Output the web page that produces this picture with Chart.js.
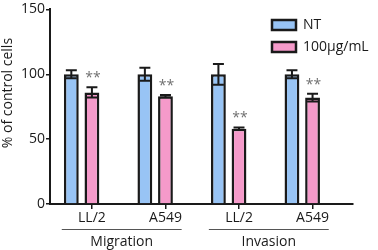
<!DOCTYPE html>
<html>
<head>
<meta charset="utf-8">
<script src="https://cdn.jsdelivr.net/npm/chart.js@4.4.0/dist/chart.umd.min.js"></script>
<style>
  html, body { margin: 0; padding: 0; background: #fff; }
  #wrap { width: 378px; height: 250px; }
</style>
</head>
<body>
<div id="wrap"><canvas id="chart"></canvas></div>
<script>
// valores (% de celulas control)
const CATEGORIES = ['LL/2', 'A549', 'LL/2', 'A549'];
const GROUPS = ['Migration', 'Invasion'];
const GROUP_MEMBERS = [[0, 1], [2, 3]];
const SERIES = ['NT', '100µg/mL'];
const NT = [100, 100, 100, 100];
const NT_ERR = [3, 5, 8, 3];
const TREATED = [86, 83, 58, 82];
const TREATED_ERR = [4, 1, 1, 3];
const STARS = ['**', '**', '**', '**'];
const Y_TICKS = [0, 50, 100, 150];
const Y_TITLE = '% of control cells';

const BLUE = '#98c4f5';
const PINK = '#f59aca';
const INK = '#1a1a1a';
const FONT = '"Open Sans", Lato, sans-serif';

const toXY = (arr) => arr.map((v, i) => ({ x: i, y: v }));

const errorBars = {
    id: 'errorBars',
    afterDatasetsDraw(chart) {
        const { ctx } = chart;
        const y = chart.scales.y;
        const sets = [[NT, NT_ERR], [TREATED, TREATED_ERR]];
        ctx.save();
        ctx.strokeStyle = INK;
        ctx.lineWidth = 2;
        sets.forEach(([vals, errs], d) => {
            const meta = chart.getDatasetMeta(d);
            meta.data.forEach((bar, i) => {
                const top = y.getPixelForValue(vals[i] + errs[i]);
                const bot = y.getPixelForValue(vals[i] - errs[i]);
                const half = bar.width * 0.37;
                ctx.beginPath();
                ctx.moveTo(bar.x, top);
                ctx.lineTo(bar.x, bot);
                ctx.moveTo(bar.x - half, top);
                ctx.lineTo(bar.x + half, top);
                ctx.moveTo(bar.x - half, bot);
                ctx.lineTo(bar.x + half, bot);
                ctx.stroke();
            });
        });
        // asteriscos sobre el tratamiento
        const meta = chart.getDatasetMeta(1);
        ctx.fillStyle = '#707070';
        ctx.font = '14px ' + FONT;
        ctx.textAlign = 'center';
        ctx.textBaseline = 'alphabetic';
        meta.data.forEach((bar, i) => {
            const top = y.getPixelForValue(TREATED[i] + TREATED_ERR[i]);
            ctx.fillText(STARS[i], bar.x + 1, top - 5);
        });
        ctx.restore();
    },
};

const axisText = {
    id: 'axisText',
    afterDraw(chart) {
        const { ctx, chartArea } = chart;
        const x = chart.scales.x;
        ctx.save();
        ctx.fillStyle = INK;
        ctx.font = '14px ' + FONT;
        ctx.textAlign = 'center';
        ctx.textBaseline = 'middle';
        // titulo del eje y, algo por encima del centro como en la figura
        ctx.save();
        ctx.translate(8, chartArea.top + (chartArea.bottom - chartArea.top) * 0.43);
        ctx.rotate(-Math.PI / 2);
        ctx.fillText(Y_TITLE, 0, 0);
        ctx.restore();
        // grupos bajo las categorias
        ctx.strokeStyle = '#555';
        ctx.lineWidth = 1;
        GROUPS.forEach((name, g) => {
            const idx = GROUP_MEMBERS[g];
            const x0 = x.getPixelForValue(idx[0] - 0.41);
            const x1 = x.getPixelForValue(idx[idx.length - 1] + 0.22);
            const ly = chartArea.bottom + 25.5;
            ctx.beginPath();
            ctx.moveTo(x0, ly);
            ctx.lineTo(x1, ly);
            ctx.stroke();
            ctx.fillText(name, (x0 + x1) / 2, chartArea.bottom + 38);
        });
        ctx.restore();
    },
};

const moveLegend = {
    id: 'moveLegend',
    afterLayout(chart) {
        const l = chart.legend;
        l.left = 264;
        l.top = 10;
        l.right = 378;
        l.width = 378 - 264;
        l.bottom = l.top + l.height;
    },
};

new Chart(document.getElementById('chart'), {
    type: 'bar',
    data: {
        datasets: [
            { label: SERIES[0], data: toXY(NT), backgroundColor: BLUE, borderColor: INK, borderWidth: 2.5 },
            { label: SERIES[1], data: toXY(TREATED), backgroundColor: PINK, borderColor: INK, borderWidth: 2.5 },
            { label: 'hueco', data: toXY(NT.map(() => 0)), backgroundColor: 'transparent', borderWidth: 0 },
        ],
    },
    plugins: [errorBars, axisText, moveLegend],
    options: {
        responsive: true,
        maintainAspectRatio: false,
        animation: false,
        layout: { padding: { top: 7, right: 25, bottom: 0, left: 0 } },
        datasets: { bar: { categoryPercentage: 0.84, barPercentage: 0.72 } },
        plugins: {
            tooltip: { enabled: false },
            legend: {
                position: 'chartArea',
                align: 'start',
                labels: {
                    boxWidth: 24,
                    boxHeight: 10,
                    padding: 8,
                    color: INK,
                    font: { family: FONT, size: 14 },
                    filter: (item) => item.datasetIndex < 2,
                },
            },
        },
        scales: {
            x: {
                type: 'linear',
                min: -0.57,
                max: 3.55,
                offset: false,
                afterBuildTicks: (s) => { s.ticks = CATEGORIES.map((_, i) => ({ value: i })); },
                afterFit: (s) => { s.height = 46; },
                grid: { offset: false, drawOnChartArea: false, drawTicks: true, tickLength: 5, color: INK, lineWidth: 1.5 },
                border: { display: true, color: INK, width: 2 },
                ticks: {
                    autoSkip: false,
                    maxRotation: 0,
                    padding: 1,
                    color: INK,
                    font: { family: FONT, size: 14 },
                    callback: (v) => CATEGORIES[v],
                },
            },
            y: {
                min: 0,
                max: 150,
                afterBuildTicks: (s) => { s.ticks = Y_TICKS.map((v) => ({ value: v })); },
                afterFit: (s) => { s.width = 50; },
                grid: { drawOnChartArea: false, drawTicks: true, tickLength: 4, color: INK, lineWidth: 1.5 },
                border: { display: true, color: INK, width: 2 },
                ticks: { padding: 1, color: INK, font: { family: FONT, size: 14 } },
            },
        },
    },
});
</script>
</body>
</html>
